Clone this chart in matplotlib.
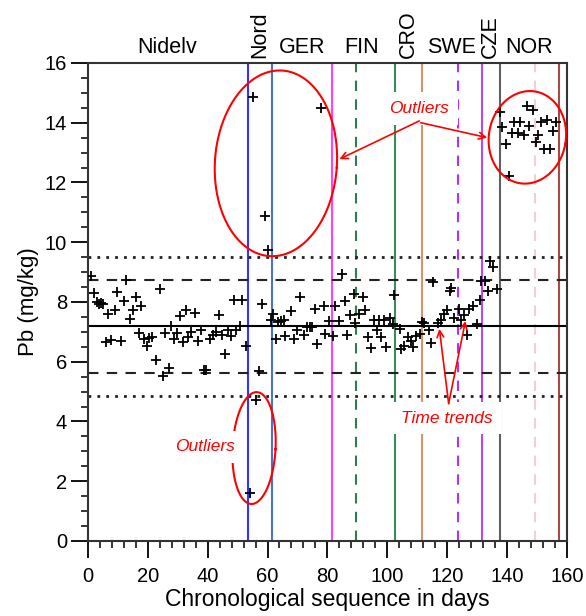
import numpy as np
import matplotlib
matplotlib.use("Agg")
import matplotlib.pyplot as plt
from matplotlib.ticker import MultipleLocator
from matplotlib.transforms import blended_transform_factory

plt.rcParams['font.family'] = ['Liberation Sans', 'DejaVu Sans']

######################################################################
# data
######################################################################

days = [1.0, 2.0, 2.9, 3.7, 4.4, 5.1, 5.9, 6.7, 7.8, 9.0, 9.8, 10.9, 12.0, 12.6,
        14.0, 15.0, 15.9, 17.0, 17.9, 18.7, 19.8, 20.5, 21.5, 22.9, 24.0, 25.0,
        25.9, 27.0, 27.8, 28.7, 29.6, 30.7, 31.6, 32.7, 33.4, 34.6, 35.7, 36.8,
        37.9, 38.7, 39.6, 40.7, 41.8, 42.9, 43.8, 44.9, 45.9, 46.8, 47.9, 48.8,
        49.6, 50.7, 51.6, 52.9,
        54.0, 55.0, 56.0, 57.0, 58.0, 59.0, 60.0, 61.0, 61.8,
        62.9, 63.5, 64.4, 65.6, 66.0, 67.7, 68.8, 69.9, 70.7, 72.1, 73.2, 74.1,
        74.9, 75.7, 76.6, 77.7, 78.8, 79.3, 80.4, 81.9, 82.7, 83.8, 84.9, 85.8,
        86.6, 87.7, 88.8, 89.3, 90.4, 91.8, 92.4, 93.6, 94.7, 95.4, 96.7, 97.1,
        97.8, 98.9, 99.7, 100.8, 101.9, 102.4, 104.1, 104.7, 105.6, 106.9, 107.8,
        108.6, 109.7, 110.8, 111.6, 112.2, 113.8, 114.7, 115.2, 116.9, 117.8,
        118.9, 120.0, 120.8, 121.3, 122.4, 123.8, 124.7, 125.6, 126.6, 127.4,
        128.7, 130.1, 130.9, 131.3, 132.8, 133.6, 134.2, 135.3, 136.7,
        137.6, 138.3, 139.8, 140.6, 141.7, 142.4, 143.6, 144.2, 145.6, 146.7,
        147.4, 148.7, 149.6, 150.4, 151.4, 152.4, 153.3, 154.4, 155.3, 156.4]

pb = [8.88, 8.29, 7.99, 7.92, 7.96, 7.94, 6.66, 7.60, 6.74, 7.74, 8.35, 6.69, 8.02, 8.72,
      7.44, 7.72, 8.16, 6.96, 7.88, 6.77, 6.51, 6.80, 6.82, 6.05, 8.44, 5.52,
      6.96, 5.79, 7.21, 6.77, 6.95, 7.52, 6.66, 7.72, 6.82, 6.99, 7.63, 6.71,
      7.05, 5.73, 5.73, 6.77, 6.88, 6.99, 7.58, 6.88, 6.27, 7.07, 6.85, 8.07,
      7.07, 7.21, 8.07, 6.51,
      1.61, 14.85, 4.73, 5.69, 7.92, 10.89, 9.75, 7.38, 7.60,
      6.77, 7.33, 7.36, 7.38, 6.86, 7.69, 6.75, 7.05, 8.16, 6.90, 7.16, 7.16,
      7.16, 7.77, 6.60, 14.50, 7.88, 6.92, 7.36, 6.86, 7.85, 7.36, 8.94, 8.03,
      6.90, 7.55, 8.27, 7.29, 7.60, 8.18, 7.74, 6.82, 6.47, 7.38, 7.05, 7.38,
      6.82, 7.38, 6.49, 7.47, 7.27, 8.22, 7.10, 6.44, 6.51, 6.82, 6.69,
      6.49, 6.86, 6.94, 7.32, 7.29, 7.07, 6.64, 8.66, 7.29, 7.38,
      7.60, 7.72, 8.36, 8.47, 7.47, 7.77, 7.40, 7.55, 6.88, 7.77,
      7.85, 7.27, 8.05, 8.69, 8.69, 8.38, 9.36, 9.18, 8.44,
      14.37, 13.86, 13.28, 12.22, 13.67, 14.01, 13.67, 14.01, 13.59, 14.56,
      13.89, 14.42, 13.34, 13.59, 14.04, 13.11, 14.08, 13.13, 13.73, 14.04]

median = 7.19
dash_limits = [5.63, 8.75]
dot_limits = [4.86, 9.51]

groups = ["Nidelv", "Nord", "GER", "FIN", "CRO", "SWE", "CZE", "NOR"]
group_x = [26.5, 57.5, 71.7, 91.5, 107, 121.5, 134.5, 147.5]
group_rot = [0, 90, 0, 0, 90, 0, 90, 0]

bounds = [53.5, 61.5, 81.5, 89.5, 102.5, 111.5, 123.5, 131.5, 137.5, 149.5, 157.5]
bound_col = ['#3333ff', '#4a72d0', '#ff40ff', '#2e7d4f', '#3a8a5a', '#d4956e',
             '#b030ff', '#b848f0', '#606060', '#f0d0d0', '#a84848']
bound_ls = ['-', '-', '-', '--', '-', '-', '--', '-', '-', '--', '-']

######################################################################
# figure
######################################################################

fig = plt.figure(figsize=(5.86, 6.16), dpi=100)
ax = fig.add_axes([0.150, 0.1218, 0.8174, 0.776])
ax.set_xlim(0, 160)
ax.set_ylim(0, 16)

for xb, c, ls in zip(bounds, bound_col, bound_ls):
    ax.axvline(xb, color=c, ls=ls, lw=1.5, zorder=2,
               dashes=(5, 4) if ls == '--' else (None, None))

ax.axhline(median, color='black', lw=1.5, zorder=2)
for v in dash_limits:
    ax.axhline(v, color='#222222', lw=1.5, ls=(0, (5, 4)), zorder=2)
for v in dot_limits:
    ax.axhline(v, color='#222222', lw=2, ls=(0, (1, 2.2)), zorder=2)

ax.plot(days, pb, '+', color='black', ms=6.5, mew=1.3, zorder=3)

# group names above the frame
trans = blended_transform_factory(ax.transData, ax.transAxes)
for name, gx, rot in zip(groups, group_x, group_rot):
    ax.text(gx, 1.01, name, transform=trans, ha='center', va='bottom',
            rotation=rot, fontsize=15.5)


# red rings, drawn in pixel space so the tilt looks right
def ring(cx, cy, rx, ry, tilt):
    t = np.linspace(0, 2 * np.pi, 300)
    c = ax.transData.transform((cx, cy))
    th = np.radians(tilt)
    ex = rx * np.cos(t)
    ey = ry * np.sin(t)
    px = c[0] + ex * np.cos(th) - ey * np.sin(th)
    py = c[1] + ex * np.sin(th) + ey * np.cos(th)
    pts = ax.transData.inverted().transform(np.column_stack([px, py]))
    ax.plot(pts[:, 0], pts[:, 1], color='red', lw=1.5, zorder=4)


ring(62.8, 12.64, 61, 93, -4)
ring(55.5, 3.11, 21.5, 56, -3)
ring(146.8, 13.51, 38.5, 46.5, -10)

box = dict(boxstyle='square,pad=0.5', fc='white', ec='none')
ax.text(110.7, 14.48, 'Outliers', color='red', style='italic', fontsize=12.5,
        ha='center', va='center', bbox=box, zorder=5)
ax.text(39, 3.15, 'Outliers', color='red', style='italic', fontsize=12.5,
        ha='center', va='center', bbox=box, zorder=5)
ax.text(119.8, 4.11, 'Time trends', color='red', style='italic', fontsize=12.5,
        ha='center', va='center', bbox=box, zorder=5)

arrow = dict(arrowstyle='->', color='red', lw=1.2, shrinkA=0, shrinkB=0,
             mutation_scale=12)
ax.annotate('', xy=(84, 12.78), xytext=(110.7, 14.06), arrowprops=arrow, zorder=6)
ax.annotate('', xy=(133.4, 13.5), xytext=(111.2, 14.0), arrowprops=arrow, zorder=6)
ax.annotate('', xy=(117.4, 7.1), xytext=(120.5, 4.6), arrowprops=arrow, zorder=6)
ax.annotate('', xy=(126.1, 7.36), xytext=(120.5, 4.6), arrowprops=arrow, zorder=6)

######################################################################
# axes styling
######################################################################

ax.xaxis.set_major_locator(MultipleLocator(20))
ax.xaxis.set_minor_locator(MultipleLocator(4))
ax.yaxis.set_major_locator(MultipleLocator(2))
ax.yaxis.set_minor_locator(MultipleLocator(0.5))
ax.tick_params(which='major', direction='out', length=12, width=1.3,
               labelsize=14.5, top=False, right=False)
ax.tick_params(which='minor', direction='out', length=5, width=1.1,
               top=False, right=False)
ax.tick_params(axis='x', which='major', pad=7)
ax.tick_params(axis='y', which='major', pad=3)
for s in ax.spines.values():
    s.set_linewidth(1.5)
    s.set_color('#333333')

ax.set_xlabel('Chronological sequence in days', fontsize=16.5, labelpad=1)
ax.set_ylabel('Pb (mg/kg)', fontsize=16, labelpad=4)

fig.savefig('out.png', dpi=100)
